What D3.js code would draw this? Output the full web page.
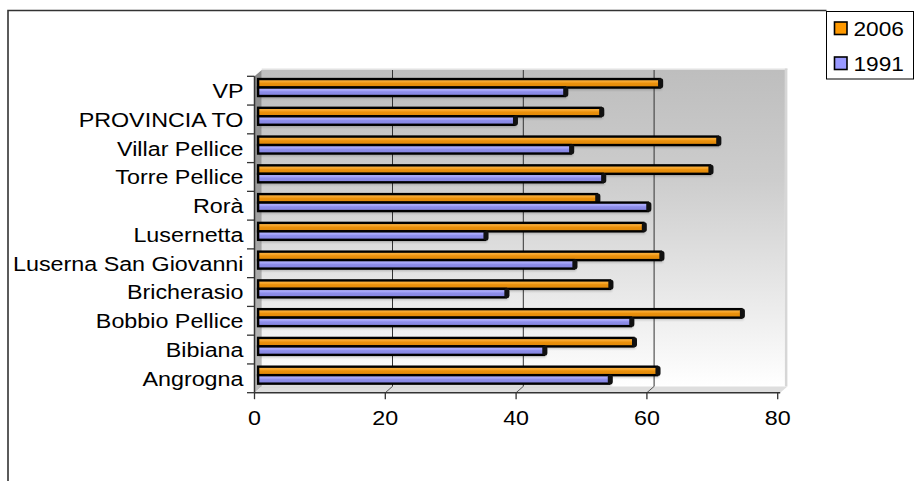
<!DOCTYPE html>
<html><head><meta charset="utf-8">
<script src="https://cdn.jsdelivr.net/npm/d3@7"></script>
<style>html,body{margin:0;padding:0;background:#fff;overflow:hidden}</style>
</head><body>
<svg id="c" width="915" height="481"></svg>
<script>
// ---- data ----
const categories = ["Angrogna","Bibiana","Bobbio Pellice","Bricherasio","Luserna San Giovanni","Lusernetta","Rorà","Torre Pellice","Villar Pellice","PROVINCIA TO","VP"];
const series = ["2006","1991"];
const values2006 = [61.0, 57.4, 73.9, 53.8, 61.6, 58.9, 51.8, 69.1, 70.3, 52.4, 61.4];
const values1991 = [53.7, 43.7, 57.0, 37.9, 48.3, 34.7, 59.6, 52.7, 47.8, 39.2, 46.9];
const xTicks = [0, 20, 40, 60, 80];

// ---- layout ----
const svg = d3.select("#c");
const FONT = "'Liberation Sans', Arial, sans-serif";
const FS = 21, SX = 1.11;
const X0 = 254.5, X1 = 777.7, YB = 392.7, YT = 76.3, DX = 7.2, DY = -6.3;

const x = d3.scaleLinear().domain([0, 80]).range([X0, X1]);
const y0 = d3.scaleBand().domain(categories).range([YB, YT]).paddingInner(0.41).paddingOuter(0.205);
const y1 = d3.scaleBand().domain(series).range([0, y0.bandwidth()]);
const colors = {"2006": "#FF9900", "1991": "#9999FF"};
const dataBy = {"2006": values2006, "1991": values1991};

const defs = svg.append("defs");
function grad(id, stops, vertical = true) {
  const g = defs.append("linearGradient").attr("id", id)
    .attr("x1", 0).attr("y1", 0).attr("x2", vertical ? 0 : 1).attr("y2", vertical ? 1 : 0);
  stops.forEach(s => g.append("stop").attr("offset", s[0]).attr("stop-color", s[1]));
}
grad("wall", [[0, "#bebebe"], [0.35, "#cdcdcd"], [1, "#ffffff"]]);
grad("side", [[0, "#8a8a8a"], [1, "#bdbdbd"]]);
grad("g2006", [[0, "#f9b850"], [0.35, "#f6a428"], [0.5, "#eb910c"], [1, "#de8708"]]);
grad("g1991", [[0, "#b9b9ff"], [0.35, "#a4a4f8"], [0.5, "#8e8eea"], [1, "#8282de"]]);
const blur = defs.append("filter").attr("id", "sh").attr("x", "-5%").attr("y", "-50%").attr("width", "110%").attr("height", "200%");
blur.append("feGaussianBlur").attr("stdDeviation", 1.3);

// chart border
svg.append("path").attr("d", `M8,481 L8,10.5 L826.5,10.5`).attr("fill", "none").attr("stroke", "#333").attr("stroke-width", 1.6);

// back wall
const bx0 = x(0) + DX, bx1 = x(80) + DX, byT = YT + DY, byB = YB + DY;
svg.append("rect").attr("x", bx0).attr("y", byT).attr("width", bx1 - bx0).attr("height", byB - byT).attr("fill", "url(#wall)");
svg.append("rect").attr("x", bx0).attr("y", byT - 1.5).attr("width", bx1 - bx0 + 2.5).attr("height", 1.5).attr("fill", "#e2e2e2");
svg.append("rect").attr("x", bx1).attr("y", byT - 1.5).attr("width", 2.5).attr("height", byB - byT + 1.5).attr("fill", "#d6d6d6");
// left side wall
svg.append("path").attr("d", `M${X0},${YT} L${bx0},${byT} L${bx0},${byB} L${X0},${YB} Z`).attr("fill", "url(#side)");
// floor
svg.append("path").attr("d", `M${X0},${YB} L${bx0},${byB} L${bx1 + 2.5},${byB} L${X1 + 2.5},${YB} Z`).attr("fill", "#dedede");

// gridlines on back wall
svg.selectAll(".grid").data(xTicks.filter(t => t > 0 && t < 80)).enter().append("line")
  .attr("x1", d => x(d) + DX).attr("x2", d => x(d) + DX).attr("y1", byT).attr("y2", byB)
  .attr("stroke", "#333").attr("stroke-width", 1);
svg.selectAll(".fgrid").data(xTicks.filter(t => t > 0 && t < 80)).enter().append("line")
  .attr("x1", d => x(d) + DX).attr("x2", d => x(d)).attr("y1", byB).attr("y2", YB)
  .attr("stroke", "#555").attr("stroke-width", 1);

// bars (at mid depth)
const ox = DX / 2, oy = DY / 2;
const rows = [];
categories.forEach((c, i) => series.forEach(s => rows.push({cat: c, s, v: dataBy[s][i]})));
const bh = y1.bandwidth();
svg.selectAll(".shadow").data(rows).enter().append("rect")
  .attr("x", d => x(0) + ox + 2).attr("y", d => y0(d.cat) + y1(d.s) + oy + 2.5)
  .attr("width", d => x(d.v) - x(0)).attr("height", bh)
  .attr("fill", "#000").attr("opacity", 0.18).attr("filter", "url(#sh)");
const bars = svg.selectAll(".bar").data(rows).enter().append("g");
bars.append("rect")
  .attr("x", d => x(0) + ox).attr("y", d => y0(d.cat) + y1(d.s) + oy)
  .attr("width", d => x(d.v) - x(0)).attr("height", bh)
  .attr("fill", d => `url(#g${d.s})`).attr("stroke", "#000").attr("stroke-width", 2.4);
bars.append("rect")
  .attr("x", d => x(d.v) + ox - 1.5).attr("y", d => y0(d.cat) + y1(d.s) + oy - 0.7)
  .attr("width", 5).attr("height", bh + 1.4).attr("rx", 2.2).attr("ry", 2.8)
  .attr("fill", "#111");

// front axes
svg.append("line").attr("x1", X0).attr("x2", X1 + 2.5).attr("y1", YB).attr("y2", YB).attr("stroke", "#333").attr("stroke-width", 1.5);
svg.append("line").attr("x1", X0).attr("x2", X0).attr("y1", YT).attr("y2", YB).attr("stroke", "#333").attr("stroke-width", 1.5);
svg.selectAll(".xt").data(xTicks).enter().append("line")
  .attr("x1", d => x(d)).attr("x2", d => x(d)).attr("y1", YB).attr("y2", YB + 6.5)
  .attr("stroke", "#333").attr("stroke-width", 1.3);
svg.selectAll(".xl").data(xTicks).enter().append("text")
  .attr("transform", d => `translate(${x(d)},425) scale(${SX},1)`)
  .attr("text-anchor", "middle").attr("font-family", FONT).attr("font-size", FS).attr("fill", "#000")
  .text(d => d);
const step = y0.step();
const bounds = d3.range(categories.length + 1).map(i => YB - i * step);
svg.selectAll(".yt").data(bounds).enter().append("line")
  .attr("x1", X0 - 7.5).attr("x2", X0).attr("y1", d => d).attr("y2", d => d)
  .attr("stroke", "#333").attr("stroke-width", 1.3);
svg.selectAll(".yl").data(categories).enter().append("text")
  .attr("transform", d => `translate(243.5,${y0(d) + y0.bandwidth() / 2 + 7.4}) scale(${SX},1)`)
  .attr("text-anchor", "end").attr("font-family", FONT).attr("font-size", FS).attr("fill", "#000")
  .text(d => d);

// legend
const lg = svg.append("g");
lg.append("rect").attr("x", 826.5).attr("y", 11.5).attr("width", 87).attr("height", 67.5)
  .attr("fill", "#fff").attr("stroke", "#000").attr("stroke-width", 1);
const lgY = d3.scalePoint().domain(series).range([28.5, 63.5]);
series.forEach(s => {
  lg.append("rect").attr("x", 834.5).attr("y", lgY(s) - 6.5).attr("width", 12.5).attr("height", 12.5)
    .attr("fill", colors[s]).attr("stroke", "#000").attr("stroke-width", 1.6);
  lg.append("text").attr("transform", `translate(853.5,${lgY(s) + 7.8}) scale(1.08,1)`)
    .attr("font-family", FONT).attr("font-size", FS).attr("fill", "#000").text(s);
});
</script>
</body></html>
